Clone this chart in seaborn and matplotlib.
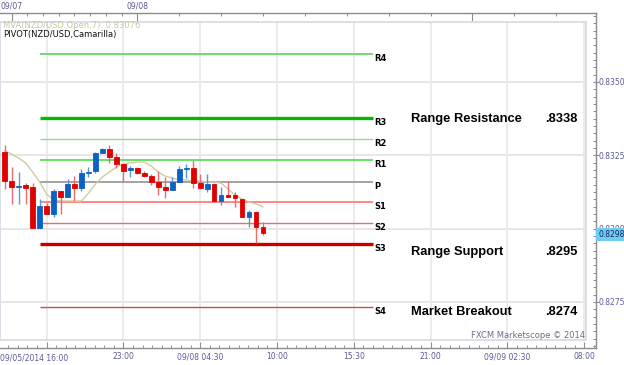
import numpy as np
import pandas as pd
import matplotlib.pyplot as plt
import matplotlib.transforms as mtransforms
import seaborn as sns
from matplotlib.patches import Rectangle
from matplotlib.ticker import FixedLocator, MultipleLocator, FormatStrFormatter

# 30 minute NZD/USD candles
opens = [0.83261, 0.83162, 0.83142, 0.83149, 0.83142, 0.83002, 0.83077, 0.83050, 0.83128, 0.83108,
         0.83152, 0.83138, 0.83190, 0.83196, 0.83258, 0.83271, 0.83244, 0.83220, 0.83200, 0.83207,
         0.83190, 0.83179, 0.83159, 0.83142, 0.83132, 0.83159, 0.83203, 0.83207, 0.83155, 0.83135,
         0.83152, 0.83094, 0.83115, 0.83115, 0.83101, 0.83040, 0.83057, 0.83005]
highs = [0.83285, 0.83210, 0.83193, 0.83155, 0.83155, 0.83101, 0.83087, 0.83135, 0.83128, 0.83169,
         0.83179, 0.83203, 0.83210, 0.83261, 0.83275, 0.83285, 0.83258, 0.83220, 0.83213, 0.83210,
         0.83196, 0.83186, 0.83196, 0.83176, 0.83176, 0.83213, 0.83220, 0.83234, 0.83186, 0.83186,
         0.83155, 0.83142, 0.83162, 0.83125, 0.83101, 0.83063, 0.83060, 0.83023]
lows = [0.83135, 0.83084, 0.83084, 0.83084, 0.83002, 0.83002, 0.83050, 0.83040, 0.83050, 0.83108,
        0.83094, 0.83128, 0.83176, 0.83190, 0.83258, 0.83224, 0.83207, 0.83159, 0.83176, 0.83186,
        0.83176, 0.83149, 0.83115, 0.83104, 0.83132, 0.83159, 0.83173, 0.83138, 0.83135, 0.83125,
        0.83094, 0.83080, 0.83108, 0.83074, 0.83040, 0.83005, 0.82951, 0.82978]
closes = [0.83162, 0.83142, 0.83145, 0.83138, 0.83002, 0.83077, 0.83050, 0.83128, 0.83108, 0.83152,
          0.83138, 0.83190, 0.83193, 0.83258, 0.83271, 0.83244, 0.83220, 0.83196, 0.83207, 0.83190,
          0.83179, 0.83159, 0.83142, 0.83132, 0.83159, 0.83203, 0.83207, 0.83155, 0.83138, 0.83152,
          0.83094, 0.83115, 0.83108, 0.83104, 0.83040, 0.83057, 0.83005, 0.82985]
mva = [0.83265, 0.83254, 0.83240, 0.83224, 0.83193, 0.83159, 0.83118, 0.83098, 0.83094, 0.83094,
       0.83094, 0.83094, 0.83121, 0.83152, 0.83176, 0.83193, 0.83210, 0.83220, 0.83224, 0.83227,
       0.83227, 0.83213, 0.83193, 0.83179, 0.83173, 0.83166, 0.83166, 0.83162, 0.83162, 0.83159,
       0.83159, 0.83155, 0.83135, 0.83115, 0.83101, 0.83091, 0.83084, 0.83074]

# camarilla pivot levels
level_names = ['R4', 'R3', 'R2', 'R1', 'P', 'S1', 'S2', 'S3', 'S4']
level_values = [0.83594, 0.83378, 0.83304, 0.83234, 0.83160, 0.83090, 0.83018, 0.82948, 0.82733]
pivot_start, pivot_end = 5.05, 52.8

note_names = ['Range Resistance', 'Range Support', 'Market Breakout']
note_values = ['.8338', '.8295', '.8274']
note_levels = ['R3', 'S3', 'S4']

bottom_labels = ['09/05/2014 16:00', '23:00', '09/08 04:30', '10:00', '15:30', '21:00', '09/09 02:30', '08:00']
top_labels = ['09/07', '09/08', '']
price_ticks = [0.8275, 0.8300, 0.8325, 0.8350]
last_price = 0.8298

# styles
level_colors = ['#72d872', '#00b800', '#8ee08e', '#3fd83f', '#a3a3a3', '#ff8585', '#ef6b6b', '#c40000', '#d44848']
level_widths = [1.4, 2.4, 1.0, 1.1, 1.4, 1.4, 1.0, 2.4, 1.0]
note_offsets = [-1, -5.8, -3.4]
axis_gray = '#8c8c8c'
tick_color = '#5b5b98'

sns.set_style('white')
plt.rcParams['font.family'] = ['DejaVu Sans']

df = pd.DataFrame({'idx': np.arange(len(opens)), 'open': opens, 'high': highs,
                   'low': lows, 'close': closes, 'mva': mva})

fig = plt.figure(figsize=(6.24, 3.65), dpi=100)
ax = fig.add_axes([0, 1 - 348 / 365, 596 / 624, 335 / 365])
ax.set_xlim(-0.67, 84.7)
ax.set_ylim(0.82593, 0.83735)

# grid, only inside the inner frame
inner_r = 586 / 596
inner_b, inner_t = 8 / 335, 326 / 335
for p in price_ticks:
    ax.axhline(p, xmin=0, xmax=inner_r, color='#e6e6e6', lw=1.4, zorder=0)
bottom_pos = np.arange(6, 84, 11)
for xp in bottom_pos:
    ax.axvline(xp, ymin=inner_b, ymax=inner_t, color='#e8e8e8', lw=1.2, zorder=0)
fig.add_artist(Rectangle((0, 1 - 340 / 365), 586 / 624, 318 / 365, transform=fig.transFigure,
                         fill=False, ec='#d3dae3', lw=1.2))

# pivot lines and labels
ax.hlines(level_values, pivot_start, pivot_end, colors=level_colors, linewidths=level_widths, zorder=1)
for name, val in zip(level_names, level_values):
    ax.text(pivot_end + 0.15, val, name, fontsize=6, fontweight='bold', ha='left', va='top', color='black')

# MVA line
sns.lineplot(data=df, x='idx', y='mva', color='#d2caa2', linewidth=1, ax=ax, zorder=2)

# candles
up = df['close'] >= df['open']
body_colors = np.where(up, '#0c62c4', '#e00000')
wick_colors = np.where(up, '#5d95d6', '#ec6a6a')
ax.vlines(df['idx'], df['low'], df['high'], colors=wick_colors, lw=1, zorder=3)
ax.bar(df['idx'], (df['close'] - df['open']).abs(), bottom=df[['open', 'close']].min(axis=1),
       width=0.68, color=body_colors, edgecolor=body_colors, lw=0.6, zorder=4)

# notes on the right
blend = mtransforms.blended_transform_factory(ax.transAxes, ax.transData)
level_map = dict(zip(level_names, level_values))
for name, val, lev, dy in zip(note_names, note_values, note_levels, note_offsets):
    y = level_map[lev]
    ax.annotate(name, xy=(411 / 596, y), xycoords=blend, xytext=(0, dy), textcoords='offset points',
                ha='left', va='center', fontsize=9.3, fontweight='bold', family='Liberation Sans',
                color='black')
    ax.annotate(val, xy=(577 / 596, y), xycoords=blend, xytext=(0, dy), textcoords='offset points',
                ha='right', va='center', fontsize=9.3, fontweight='bold', family='Liberation Sans',
                color='black')

ax.set_xlabel('')
ax.set_ylabel('')

# spines and ticks
for s in ['top', 'left']:
    ax.spines[s].set_visible(False)
for s in ['right', 'bottom']:
    ax.spines[s].set_color(axis_gray)
    ax.spines[s].set_linewidth(1)

ax.xaxis.set_major_locator(FixedLocator(bottom_pos))
ax.set_xticklabels([''] + bottom_labels[1:])
ax.xaxis.set_minor_locator(FixedLocator(6 + 1.375 * np.arange(-4, 58)))
ax.tick_params(axis='x', which='major', direction='in', length=4.3, width=0.8, color=axis_gray,
               labelsize=5.5, labelcolor=tick_color, pad=3)
ax.tick_params(axis='x', which='minor', direction='in', length=2, width=0.7, color=axis_gray)
fig.text(0, 1 - 358 / 365, bottom_labels[0], fontsize=5.5, color=tick_color, ha='left', va='center')

ax.yaxis.tick_right()
ax.yaxis.set_major_locator(FixedLocator(price_ticks))
ax.yaxis.set_major_formatter(FormatStrFormatter('%.4f'))
ax.yaxis.set_minor_locator(MultipleLocator(0.00025))
ax.tick_params(axis='y', which='major', direction='inout', length=5, width=0.8, color=axis_gray,
               labelsize=5.5, labelcolor=tick_color, pad=-0.8)
ax.tick_params(axis='y', which='minor', direction='in', length=2.2, width=0.7, color=axis_gray)

# top date axis
axt = ax.twiny()
axt.set_xlim(ax.get_xlim())
axt.xaxis.set_major_locator(FixedLocator([1, 19, 67]))
axt.set_xticklabels(top_labels)
top_minor = list(np.linspace(1, 19, 9)[1:-1]) + [v for v in range(25, 85, 6) if v != 67]
axt.xaxis.set_minor_locator(FixedLocator(top_minor))
axt.tick_params(axis='x', which='major', direction='in', length=5.5, width=0.8, color=axis_gray,
                labelsize=5.5, labelcolor=tick_color, pad=1.8)
axt.tick_params(axis='x', which='minor', direction='in', length=2.2, width=0.7, color=axis_gray)
for s in ['left', 'right', 'bottom']:
    axt.spines[s].set_visible(False)
axt.spines['top'].set_color(axis_gray)
axt.spines['top'].set_linewidth(1)

# last price tag, it hides most of the 0.8300 label like in the terminal
ax.text(1.004, last_price, f'{last_price:.4f}', transform=blend, fontsize=5.5, color='#14285a',
        ha='left', va='center', clip_on=False, zorder=10,
        bbox=dict(boxstyle='square,pad=0.3', fc='#6fcdf3', ec='none'))

# header and footer texts
fig.text(3 / 624, 1 - 26 / 365, 'MVA(NZD/USD.Open,7): 0.83076', fontsize=6, color='#cfc69a', va='center')
fig.text(3 / 624, 1 - 35 / 365, 'PIVOT(NZD/USD,Camarilla)', fontsize=6, color='#111111', va='center')
fig.text(585 / 624, 1 - 336 / 365, 'FXCM Marketscope \u00a9 2014', fontsize=6, color='#6c6c8c',
         ha='right', va='center')

fig.savefig('out.png', dpi=100)
